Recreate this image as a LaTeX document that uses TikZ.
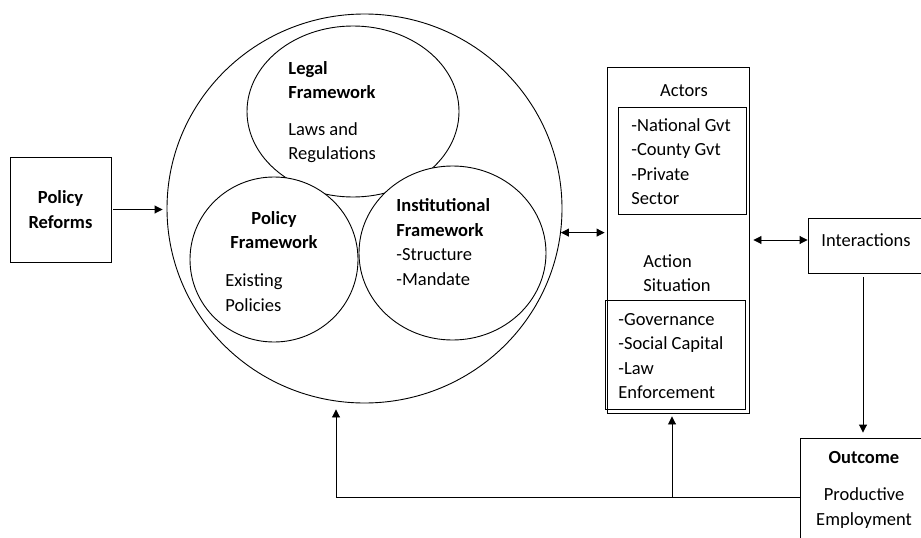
\documentclass[tikz,border=0pt]{standalone}
\usepackage{fontspec}
\setmainfont{Carlito}
\usetikzlibrary{arrows.meta,shapes.geometric}

\begin{document}
\begin{tikzpicture}[x=1pt,y=-1pt,line width=0.9pt,
  >={Triangle[length=8pt,width=8pt]},
  every node/.style={font=\fontsize{18.5}{24.5}\selectfont,inner sep=0pt},
  head/.style={font=\fontsize{18.5}{24.5}\selectfont\bfseries},
  box/.style={draw,rectangle},
  ring/.style={draw,ellipse,fill=white}]
\useasboundingbox (0,0) rectangle (921,538);
% left input
\node [box, minimum width=101, minimum height=105, head, align=center] (reforms) at (60.5,209.5) {Policy\\Reforms};
% big circle and its three parts
\node [ring, minimum width=395, minimum height=389] (context) at (364.5,208.5) {};
\node [ring, minimum width=212, minimum height=171] (legal) at (353,111.5) {};
\node [ring, minimum width=168, minimum height=165] (policy) at (274,259.5) {};
\node [ring, minimum width=187, minimum height=174] (institution) at (452.5,253) {};
\node [head, align=left, anchor=west] (legalhead) at (288,80) {Legal\\Framework};
\node [align=left, anchor=west] (legaltext) at (288,142.5) {Laws and\\Regulations};
\node [head, align=center] (policyhead) at (274,230) {Policy\\Framework};
\node [align=left, anchor=west] (policytext) at (225,292.5) {Existing\\Policies};
\node [align=left, anchor=west] (insttext) at (396,242) {\textbf{Institutional}\\\textbf{Framework}\\-Structure\\-Mandate};
% action situation
\node [box, minimum width=142, minimum height=346] (situation) at (678,240) {};
\node (actors) at (684,91) {Actors};
\node [box, minimum width=128, minimum height=107] (actorbox) at (682,160.5) {};
\node [align=left, anchor=west] (actorlist) at (631,161.5) {-National Gvt\\-County Gvt\\-Private\\Sector};
\node [align=left, anchor=west] (action) at (643,273) {Action\\Situation};
\node [box, minimum width=140, minimum height=109] (rulebox) at (675,354.5) {};
\node [align=left, anchor=west] (rulelist) at (618,356) {-Governance\\-Social Capital\\-Law\\Enforcement};
% right side
\node [box, minimum width=116, minimum height=55, text depth=10pt] (interactions) at (866,245.5) {Interactions};
\node [box, minimum width=130, minimum height=110] (outcome) at (865,493) {};
\node [head] (outcomehead) at (864,457) {Outcome};
\node [align=center] (outcometext) at (864,508) {Productive\\Employment};
% connectors
\coordinate (back) at (336,497);
\coordinate (split) at (672,497);
\draw [->, shorten <=2pt, shorten >=4pt] (reforms.east) -- (reforms.east -| context.west);
\draw [<->, shorten >=2pt] (context.-7) -- (context.-7 -| situation.west);
\draw [<->, shorten <=4pt] (situation.east) -- (situation.east -| interactions.west);
\draw [->, shorten <=4pt, shorten >=5pt] ([xshift=-3pt]interactions.south) -- ([xshift=-3pt]interactions.south |- outcome.north);
\draw [->, shorten >=6pt] (outcome.west |- back) -- (back) -- (back |- context.south);
\draw [->, shorten >=3pt] (split) -- (split |- situation.south);
\end{tikzpicture}
\end{document}
